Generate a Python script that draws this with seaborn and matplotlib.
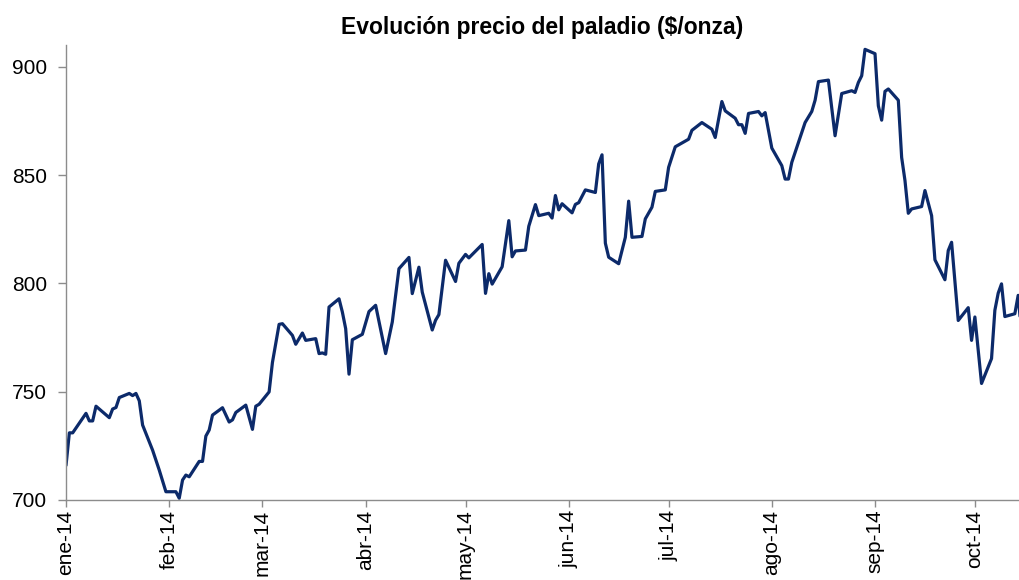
import pandas as pd
import matplotlib.pyplot as plt
import seaborn as sns

# precio del paladio ($/onza)
dates = [
    '2014-01-01', '2014-01-02', '2014-01-03', '2014-01-07', '2014-01-08', '2014-01-09', '2014-01-10',
    '2014-01-14', '2014-01-15', '2014-01-16', '2014-01-17', '2014-01-20', '2014-01-21', '2014-01-22',
    '2014-01-23', '2014-01-24', '2014-01-27', '2014-01-29', '2014-01-31',
    '2014-02-03', '2014-02-04', '2014-02-05', '2014-02-06', '2014-02-07', '2014-02-10', '2014-02-11',
    '2014-02-12', '2014-02-13', '2014-02-14', '2014-02-17', '2014-02-19', '2014-02-20', '2014-02-21',
    '2014-02-24', '2014-02-26', '2014-02-27', '2014-02-28',
    '2014-03-03', '2014-03-04', '2014-03-06', '2014-03-07', '2014-03-10', '2014-03-11', '2014-03-13',
    '2014-03-14', '2014-03-17', '2014-03-18', '2014-03-19', '2014-03-20', '2014-03-21', '2014-03-24',
    '2014-03-25', '2014-03-26', '2014-03-27', '2014-03-28', '2014-03-31',
    '2014-04-02', '2014-04-04', '2014-04-07', '2014-04-09', '2014-04-11', '2014-04-14', '2014-04-15',
    '2014-04-17', '2014-04-18', '2014-04-21', '2014-04-22', '2014-04-23', '2014-04-25', '2014-04-28',
    '2014-04-29',
    '2014-05-01', '2014-05-02', '2014-05-06', '2014-05-07', '2014-05-08', '2014-05-09', '2014-05-12',
    '2014-05-14', '2014-05-15', '2014-05-16', '2014-05-19', '2014-05-20', '2014-05-22', '2014-05-23',
    '2014-05-26', '2014-05-27', '2014-05-28', '2014-05-29', '2014-05-30',
    '2014-06-02', '2014-06-03', '2014-06-04', '2014-06-06', '2014-06-09', '2014-06-10', '2014-06-11',
    '2014-06-12', '2014-06-13', '2014-06-16', '2014-06-17', '2014-06-18', '2014-06-19', '2014-06-20',
    '2014-06-23', '2014-06-24', '2014-06-26', '2014-06-27', '2014-06-30',
    '2014-07-01', '2014-07-03', '2014-07-07', '2014-07-08', '2014-07-11', '2014-07-14', '2014-07-15',
    '2014-07-17', '2014-07-18', '2014-07-21', '2014-07-22', '2014-07-23', '2014-07-24', '2014-07-25',
    '2014-07-28', '2014-07-29', '2014-07-30',
    '2014-08-01', '2014-08-04', '2014-08-05', '2014-08-06', '2014-08-07', '2014-08-11', '2014-08-13',
    '2014-08-14', '2014-08-15', '2014-08-18', '2014-08-20', '2014-08-22', '2014-08-25', '2014-08-26',
    '2014-08-27', '2014-08-28', '2014-08-29',
    '2014-09-01', '2014-09-02', '2014-09-03', '2014-09-04', '2014-09-05', '2014-09-08', '2014-09-09',
    '2014-09-10', '2014-09-11', '2014-09-12', '2014-09-15', '2014-09-16', '2014-09-18', '2014-09-19',
    '2014-09-22', '2014-09-23', '2014-09-24', '2014-09-26', '2014-09-29', '2014-09-30',
    '2014-10-01', '2014-10-03', '2014-10-06', '2014-10-07', '2014-10-08', '2014-10-09', '2014-10-10',
    '2014-10-13', '2014-10-14', '2014-10-15',
]
prices = [
    716, 731, 731, 740, 736.5, 736.5, 743.3, 738, 742, 742.7, 747.3, 749.2, 748.2, 749.2,
    745.8, 734.6, 723, 713.8, 703.8,
    703.8, 700.8, 709.2, 711.5, 710.7, 717.8, 717.8, 729.5, 732.3, 739.2, 742.6, 736, 737, 740.4,
    743.8, 732.6, 743.3, 744.2,
    749.9, 763.5, 781.1, 781.4, 776, 771.9, 777.1, 773.7, 774.5, 767.6, 767.9, 767.3, 789.1, 792.9,
    786.8, 779.1, 758.1, 774, 776.5,
    787, 789.9, 767.6, 782.2, 806.8, 812, 795.3, 807.5, 796, 778.5, 783, 785.6, 810.7, 800.9, 809.3,
    813.4, 811.8, 818, 795.4, 804.5, 799.7, 807.7, 829, 812.3, 815, 815.4, 826.4, 836.4, 831.3,
    832.4, 830.2, 840.6, 834, 836.8,
    832.6, 836.5, 837.3, 843.2, 842, 855.2, 859.4, 818.6, 812.1, 809.1, 815.2, 821.3, 838, 821.3,
    821.7, 829.8, 835.2, 842.5, 843.2,
    853.6, 863.1, 866.6, 870.7, 874.3, 871.2, 867.4, 884, 879.7, 876.3, 873.3, 873.3, 869.3, 878.5,
    879.4, 877.4, 878.9,
    862.5, 854.4, 848.2, 848.2, 855.9, 874.3, 879.4, 884.6, 893.2, 893.9, 868.2, 887.7, 889, 888.2,
    892.8, 895.9, 908.1,
    906.1, 882, 875.4, 888.7, 889.8, 884.6, 858.2, 847.5, 832.4, 834.4, 835.5, 842.9, 831.3, 810.9,
    801.7, 815.2, 819, 782.9, 788.8, 773.7,
    784.5, 753.8, 765.3, 787.6, 795.5, 799.8, 784.7, 786, 794.5, 777,
]

month_ticks = ['2014-01-01', '2014-02-01', '2014-03-01', '2014-04-01', '2014-05-01',
               '2014-06-01', '2014-07-01', '2014-08-01', '2014-09-01', '2014-10-01']
month_labels = ['ene-14', 'feb-14', 'mar-14', 'abr-14', 'may-14',
                'jun-14', 'jul-14', 'ago-14', 'sep-14', 'oct-14']
y_ticks = [700, 750, 800, 850, 900]

df = pd.DataFrame({'fecha': pd.to_datetime(dates), 'precio': prices})

sns.set_style('white')
plt.rcParams['font.family'] = ['Liberation Sans', 'DejaVu Sans']
plt.rcParams['text.color'] = 'black'
plt.rcParams['xtick.color'] = 'black'
plt.rcParams['ytick.color'] = 'black'

fig = plt.figure(figsize=(10.19, 5.8), dpi=100)
ax = fig.add_axes([0.0648, 0.138, 0.9352, 0.784])

sns.lineplot(data=df, x='fecha', y='precio', color='#0c2a6a', linewidth=2.3, ax=ax)

ax.set_xlim(pd.Timestamp('2014-01-01'), pd.Timestamp('2014-10-14 06:00'))
ax.set_ylim(700, 910)
ax.set_yticks(y_ticks)
ax.set_xticks(pd.to_datetime(month_ticks))
ax.set_xticklabels(month_labels, rotation=90)
ax.set_xlabel('')
ax.set_ylabel('')

for side in ['top', 'right']:
    ax.spines[side].set_visible(False)
for side in ['left', 'bottom']:
    ax.spines[side].set_color('#8c8c8c')
    ax.spines[side].set_linewidth(1)

ax.tick_params(axis='y', direction='out', length=6, width=1, color='#8c8c8c',
               labelcolor='black', labelsize=15, pad=7.5, left=True)
ax.tick_params(axis='x', direction='out', length=5, width=1, color='#8c8c8c',
               labelcolor='black', labelsize=15, pad=2, bottom=True)

ax.set_title('Evolución precio del paladio ($/onza)', fontweight='bold', fontsize=16.5,
             pad=8, color='black')

fig.savefig('out.png', dpi=100)
